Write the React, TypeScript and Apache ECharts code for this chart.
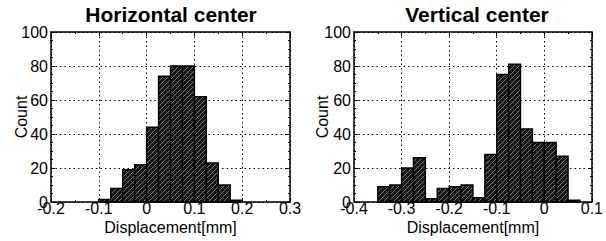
import React, { useEffect, useRef } from "react";
import * as echarts from "echarts";

const binWidth = 0.025;

const hBinStarts = [-0.1, -0.075, -0.05, -0.025, 0, 0.025, 0.05, 0.075, 0.1, 0.125, 0.15, 0.175];
const hCounts = [1.5, 8, 19, 22, 44, 74, 80, 80, 62, 23, 10, 1];

const vBinStarts = [-0.35, -0.325, -0.3, -0.275, -0.25, -0.225, -0.2, -0.175, -0.15, -0.125, -0.1, -0.075, -0.05, -0.025, 0, 0.025, 0.05];
const vCounts = [9, 10, 20, 26, 2, 8, 9, 10, 2.5, 28, 75, 81, 43, 35, 35, 27, 1];

const hTicks = { min: -0.2, max: 0.3, interval: 0.1 };
const vTicks = { min: -0.4, max: 0.1, interval: 0.1 };
const yTicks = { min: 0, max: 100, interval: 20 };

const titles = ["Horizontal center", "Vertical center"];
const xName = "Displacement[mm]";
const yName = "Count";

const FONT = "Liberation Sans, Arial, Helvetica, sans-serif";

function makePattern() {
  const s = 5;
  const c = document.createElement("canvas");
  c.width = s;
  c.height = s;
  const ctx = c.getContext("2d")!;
  ctx.fillStyle = "#121212";
  ctx.fillRect(0, 0, s, s);
  ctx.fillStyle = "#7a7a7a";
  for (let i = 0; i < s; i++) {
    ctx.fillRect(i, s - 1 - i, 1, 1);
  }
  ctx.fillStyle = "#3a3a3a";
  ctx.fillRect(1, 1, 1, 1);
  ctx.fillRect(3, 3, 1, 1);
  return { image: c.toDataURL(), repeat: "repeat", imageWidth: s, imageHeight: s };
}

export default function App() {
  const ref = useRef<HTMLDivElement>(null);
  useEffect(() => {
    document.body.style.margin = "0";
    const chart = echarts.init(ref.current!, null, { renderer: "svg" });
    const pattern = makePattern();

    const toData = (starts: number[], counts: number[]) =>
      starts.map((s, i) => [s, s + binWidth, counts[i]]);

    const renderItem = (params: any, api: any) => {
      const p0 = api.coord([api.value(0), api.value(2)]);
      const p1 = api.coord([api.value(1), 0]);
      return {
        type: "rect",
        shape: { x: p0[0], y: p0[1], width: p1[0] - p0[0], height: p1[1] - p0[1] },
        style: { fill: pattern, stroke: "#000", lineWidth: 1.4 },
      };
    };

    const grids = [
      { left: 51, right: 316, top: 32, bottom: 39 },
      { left: 354, right: 10, top: 32, bottom: 39 },
    ];

    const dash = [1.5, 3];
    const line = { show: true, onZero: false, lineStyle: { color: "#000", width: 1.5 } };
    const xAxes: any[] = [];
    const yAxes: any[] = [];
    [hTicks, vTicks].forEach((t, gi) => {
      xAxes.push({
        type: "value",
        gridIndex: gi,
        position: "bottom",
        min: t.min,
        max: t.max,
        interval: t.interval,
        name: xName,
        nameLocation: "middle",
        nameGap: 17,
        nameMoveOverlap: false,
        nameTextStyle: { fontFamily: FONT, fontSize: 16, color: "#000" },
        axisLine: line,
        axisTick: { show: true, inside: true, length: 4, lineStyle: { color: "#000" } },
        minorTick: { show: true, splitNumber: 2, length: 2, lineStyle: { color: "#000" } },
        axisLabel: { fontFamily: FONT, fontSize: 16, color: "#000", margin: -2 },
        splitLine: { show: true, lineStyle: { color: "#000", type: dash, width: 1 } },
      });
      xAxes.push({
        type: "value",
        gridIndex: gi,
        position: "top",
        min: t.min,
        max: t.max,
        interval: t.interval,
        axisLine: line,
        axisTick: { show: true, inside: true, length: 4, lineStyle: { color: "#000" } },
        minorTick: { show: true, splitNumber: 2, length: 2, lineStyle: { color: "#000" } },
        axisLabel: { show: false },
        splitLine: { show: false },
      });
      yAxes.push({
        type: "value",
        gridIndex: gi,
        position: "left",
        min: yTicks.min,
        max: yTicks.max,
        interval: yTicks.interval,
        name: yName,
        nameLocation: "middle",
        nameGap: gi === 0 ? 22 : 24,
        nameMoveOverlap: false,
        nameTextStyle: { fontFamily: FONT, fontSize: 16, color: "#000" },
        axisLine: line,
        axisTick: { show: true, inside: true, length: 4, lineStyle: { color: "#000" } },
        minorTick: { show: true, splitNumber: 4, length: 2, lineStyle: { color: "#000" } },
        axisLabel: { fontFamily: FONT, fontSize: 16, color: "#000", margin: 3 },
        splitLine: { show: true, lineStyle: { color: "#000", type: dash, width: 1 } },
      });
      yAxes.push({
        type: "value",
        gridIndex: gi,
        position: "right",
        min: yTicks.min,
        max: yTicks.max,
        interval: yTicks.interval,
        axisLine: line,
        axisTick: { show: true, inside: true, length: 4, lineStyle: { color: "#000" } },
        minorTick: { show: true, splitNumber: 4, length: 2, lineStyle: { color: "#000" } },
        axisLabel: { show: false },
        splitLine: { show: false },
      });
    });

    chart.setOption({
      animation: false,
      backgroundColor: "#fff",
      grid: grids,
      xAxis: xAxes,
      yAxis: yAxes,
      graphic: [
        {
          type: "text",
          x: 171,
          y: 4,
          style: { text: titles[0], font: `bold 21px ${FONT}`, fill: "#000", textAlign: "center", textVerticalAlign: "top" },
        },
        {
          type: "text",
          x: 477,
          y: 4,
          style: { text: titles[1], font: `bold 21px ${FONT}`, fill: "#000", textAlign: "center", textVerticalAlign: "top" },
        },
      ],
      series: [
        {
          type: "custom",
          xAxisIndex: 0,
          yAxisIndex: 0,
          renderItem,
          encode: { x: [0, 1], y: 2 },
          data: toData(hBinStarts, hCounts),
          z: 3,
        },
        {
          type: "custom",
          xAxisIndex: 2,
          yAxisIndex: 2,
          renderItem,
          encode: { x: [0, 1], y: 2 },
          data: toData(vBinStarts, vCounts),
          z: 3,
        },
      ],
    });
    return () => chart.dispose();
  }, []);
  return <div ref={ref} style={{ width: 606, height: 241 }} />;
}
